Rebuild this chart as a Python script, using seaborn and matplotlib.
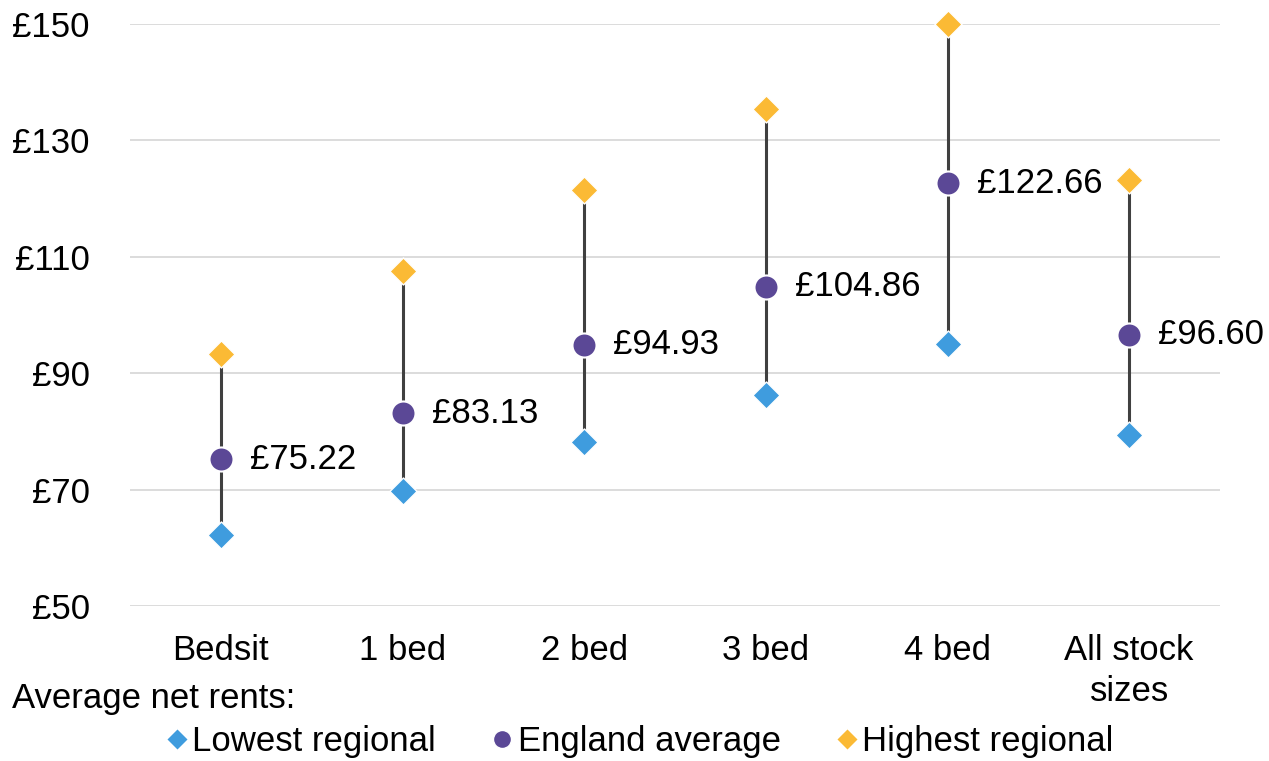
import matplotlib
matplotlib.use("Agg")
import matplotlib.pyplot as plt
from matplotlib.lines import Line2D
import seaborn as sns
import pandas as pd

# values (GBP per week)
sizes = ["Bedsit", "1 bed", "2 bed", "3 bed", "4 bed", "All stock\nsizes"]
lowest = [62.2, 69.8, 78.2, 86.3, 95.0, 79.4]
england = [75.22, 83.13, 94.93, 104.86, 122.66, 96.60]
highest = [93.3, 107.6, 121.5, 135.4, 150.0, 123.2]
yticks = [50, 70, 90, 110, 130, 150]

col_low = "#3F9CDE"
col_avg = "#5B4896"
col_high = "#FBBA35"

sns.set_theme(style="white")
plt.rcParams["font.family"] = ["Liberation Sans", "DejaVu Sans"]
plt.rcParams["text.color"] = "black"

df = pd.DataFrame({"size": sizes, "low": lowest, "avg": england, "high": highest})

fig = plt.figure(figsize=(12.69, 7.61), dpi=100)
ax = fig.add_axes([130 / 1269, 1 - 606 / 761, 1090 / 1269, 582 / 761])

# range lines
ax.vlines(df["size"], df["low"], df["high"], color="#404040", lw=2.2, zorder=2)

sns.scatterplot(data=df, x="size", y="low", marker="D", s=190, color=col_low,
                edgecolor="white", linewidth=1, ax=ax, zorder=3, clip_on=False)
sns.scatterplot(data=df, x="size", y="high", marker="D", s=190, color=col_high,
                edgecolor="white", linewidth=1, ax=ax, zorder=3, clip_on=False)
sns.scatterplot(data=df, x="size", y="avg", marker="o", s=300, color=col_avg,
                edgecolor="white", linewidth=1.5, ax=ax, zorder=4, clip_on=False)

for s, v in zip(df["size"], df["avg"]):
    ax.annotate(f"£{v:.2f}", xy=(s, v), xytext=(21, 0), textcoords="offset points",
                ha="left", va="center", fontsize=25, color="black")

ax.set_ylim(50, 150)
ax.set_xlim(-0.5, len(sizes) - 0.5)
ax.set_yticks(yticks)
ax.set_yticklabels([f"£{t}" for t in yticks])
ax.yaxis.grid(True, color="#D9D9D9", lw=1.3)
ax.set_axisbelow(True)
for sp in ax.spines.values():
    sp.set_visible(False)
ax.tick_params(axis="y", length=0, pad=29, labelsize=25, labelcolor="black")
ax.tick_params(axis="x", length=0, pad=20, labelsize=25, labelcolor="black")
for lab in ax.get_xticklabels():
    lab.set_linespacing(1.3)
ax.set_xlabel("")
ax.set_ylabel("")

fig.text(12 / 1269, 1 - 708 / 761, "Average net rents:", fontsize=25,
         ha="left", va="baseline", color="black")

handles = [
    Line2D([], [], marker="D", color="none", markerfacecolor=col_low,
           markeredgecolor="white", markersize=11, label="Lowest regional"),
    Line2D([], [], marker="o", color="none", markerfacecolor=col_avg,
           markeredgecolor="white", markersize=13, label="England average"),
    Line2D([], [], marker="D", color="none", markerfacecolor=col_high,
           markeredgecolor="white", markersize=11, label="Highest regional"),
]
leg = fig.legend(handles=handles, loc="center", bbox_to_anchor=(640 / 1269, 1 - 742 / 761),
                 ncol=3, frameon=False, fontsize=25, handlelength=0.6, handletextpad=0.15,
                 columnspacing=1.6)
for t in leg.get_texts():
    t.set_color("black")

fig.savefig("out.png", dpi=100)
